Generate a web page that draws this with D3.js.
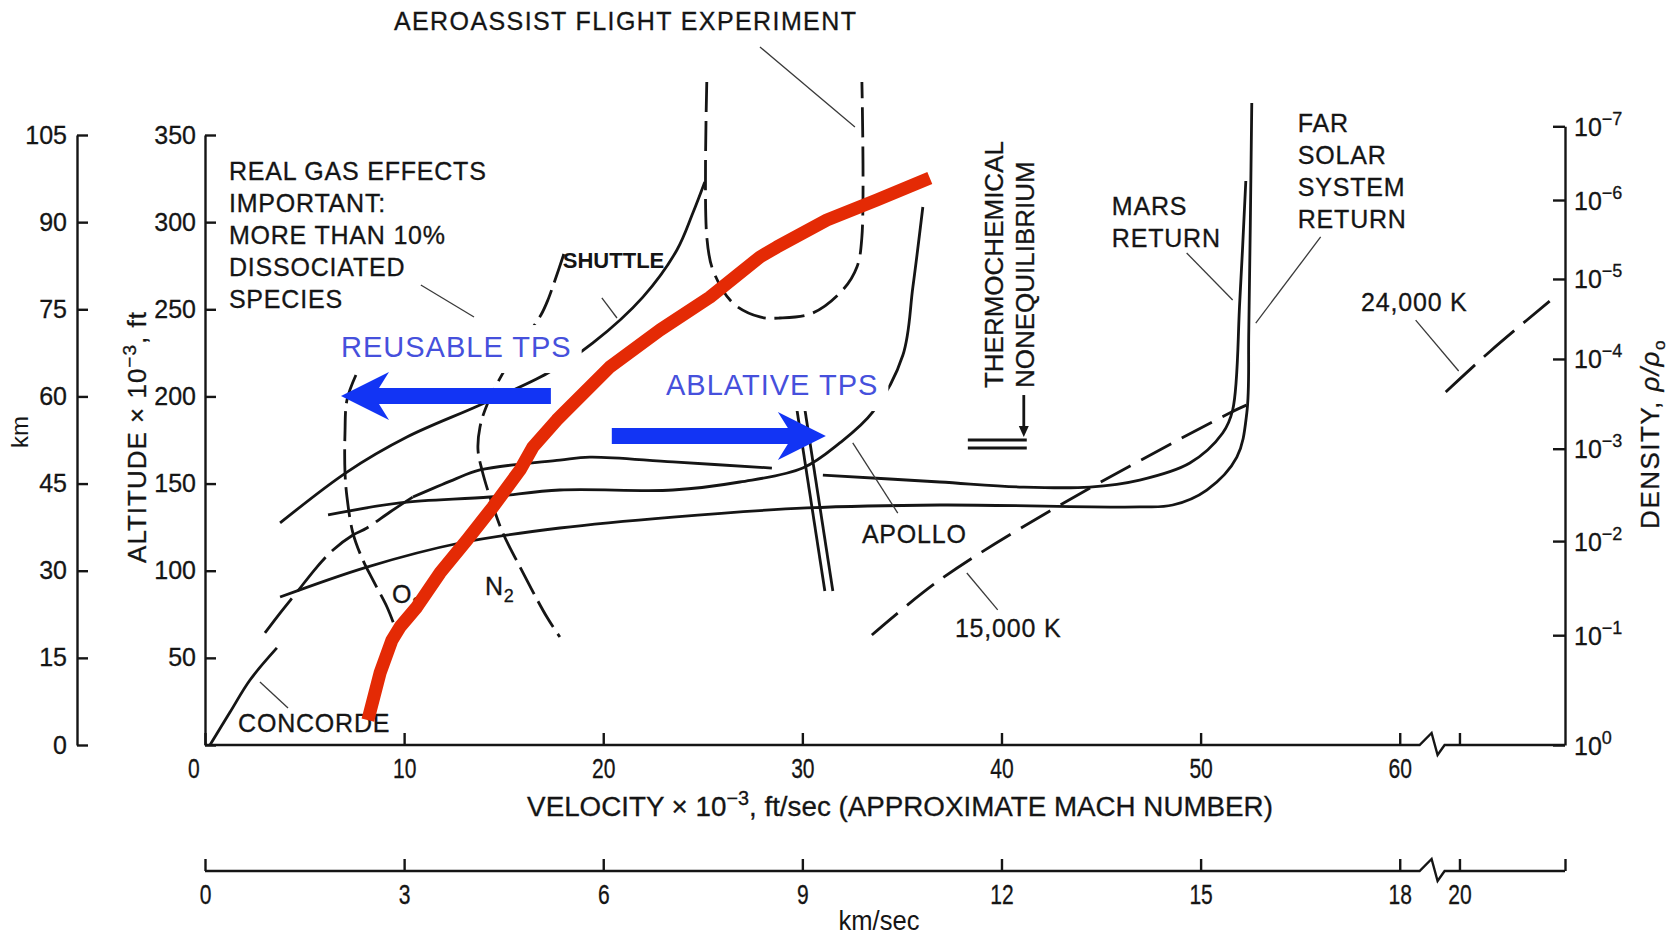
<!DOCTYPE html>
<html lang="en">
<head>
<meta charset="utf-8">
<title>Flight regimes</title>
<script src="https://cdn.jsdelivr.net/npm/d3@7/dist/d3.min.js"></script>
<style>
  body { margin: 0; background: #fff; }
  svg { display: block; background: #fff; }
  text { font-family: "Liberation Sans", Arial, Helvetica, sans-serif; fill: #151515; }
  .axis .domain, .axis .tick line, .axis-line { stroke: #151515; stroke-width: 2.4; fill: none; }
  .axis text { font-size: 25px; stroke: #151515; stroke-width: 0.3px; }
  .curve { fill: none; stroke: #151515; stroke-width: 2.8; stroke-linejoin: round; }
  .leader { stroke: #3a3a3a; stroke-width: 1.3; fill: none; }
  .label { font-size: 25px; letter-spacing: 0.8px; stroke: #151515; stroke-width: 0.3px; }
  .shuttle { font-size: 22px; font-weight: bold; }
  .rot-label { font-size: 26px; stroke: #151515; stroke-width: 0.3px; }
  .tps-label { font-size: 29px; letter-spacing: 1px; fill: #4650dc; }
  .tps-arrow { fill: #1234f4; }
  .boundary { fill: none; stroke: #e42a05; stroke-width: 13; stroke-linejoin: round; }
</style>
</head>
<body>
<svg id="chart" width="1670" height="935"></svg>
<script>
// all curves are [velocity x 10^-3 ft/s, altitude x 10^-3 ft]

const redBoundary = [[8.18, 14.3], [8.79, 41.3], [9.39, 60.2], [9.79, 67.7], [10.64, 79.2], [11.80, 98.7],
  [13.15, 117.6], [14.46, 136.6], [15.82, 157.8], [16.47, 171.0], [17.67, 186.5], [20.33, 216.9],
  [22.85, 238.1], [25.36, 257.0], [27.87, 280.0], [28.72, 285.7], [31.23, 301.2], [33.74, 312.7], [36.40, 325.3]];

const concorde = [[0.25, 0], [1.26, 18.9], [2.26, 37.3], [3.61, 55.7]];

const shuttle = [[3.77, 127.4], [7.13, 156.6], [10.14, 176.7], [13.81, 195.1], [17.22, 213.4], [19.48, 230.7],
  [21.99, 257.0], [23.70, 284.0], [24.50, 305.2], [25.10, 323.0]];

const apollo = [[6.18, 132.0], [9.79, 138.9], [14.31, 142.3], [17.82, 146.3], [23.50, 146.3], [26.86, 150.9],
  [30.02, 158.9], [31.88, 173.3], [33.54, 191.1], [35.05, 223.8], [35.55, 262.8], [36.05, 308.7]];

const marsLow = [[3.01, 64.3], [3.77, 75.7], [4.62, 87.8], [5.62, 102.1], [6.43, 111.9], [7.43, 120.5],
  [8.13, 124.5], [9.29, 133.7], [10.44, 142.3]];

const marsReturn = [[10.44, 142.3], [12.45, 152.0], [13.81, 157.8], [17.82, 163.5], [19.33, 165.2], [23.50, 162.4],
  [28.47, 158.9], null, [31.03, 154.9], [36.90, 150.9], [41.07, 148.0], [44.43, 148.0], [46.94, 152.0],
  [49.46, 161.8], [51.11, 179.0], [51.61, 192.2], [51.97, 255.3], [52.27, 323.6]];

const farSolar = [[3.77, 84.9], [8.13, 102.1], [12.80, 115.9], [17.82, 124.5], [23.50, 130.8], [30.23, 136.0],
  [36.90, 137.7], [46.94, 136.6], [48.60, 137.7], [50.31, 146.3], [51.82, 165.2], [52.32, 190.5],
  [52.42, 238.1], [52.57, 368.4]];

const o2 = [[7.58, 212.3], [7.13, 197.9], [7.03, 179.0], [7.03, 156.6], [7.13, 142.3], [7.43, 121.6],
  [7.93, 106.1], [8.43, 94.7], [9.14, 79.2], [9.54, 67.7]];

const n2 = [[18.02, 281.7], [17.22, 255.3], [16.87, 246.7], [15.92, 230.7], [14.96, 213.4], [14.16, 195.1],
  [13.81, 182.5], [13.71, 169.3], [13.91, 157.8], [14.31, 142.3], [14.96, 121.6], [15.82, 102.1],
  [17.17, 73.4], [17.82, 62.0]];

const afe = [[25.20, 380.4], [25.20, 291.5], [25.51, 272.5], [26.51, 253.6], [27.87, 245.6], [28.87, 245.0],
  [30.53, 247.9], [32.03, 261.1], [32.74, 274.3], [32.99, 291.5], [32.99, 380.4]];

const thermoBoundary = [[29.93, 192.2], [31.33, 88.4]];

const k15000 = [[33.49, 63.1], [36.90, 94.7], [42.78, 136.6], [51.46, 190.5], [52.30, 195.0]];
const k24000 = [[62.31, 202.5], [64.56, 226.1], [67.53, 254.7]];

// axes
const ftTicks = [0, 50, 100, 150, 200, 250, 300, 350];
const ftLabels = ['', '50', '100', '150', '200', '250', '300', '350'];
const kmTicks = [0, 15, 30, 45, 60, 75, 90, 105];
const velTicks = [0, 10, 20, 30, 40, 50, 60, 63];
const velLabels = ['0', '10', '20', '30', '40', '50', '60', ''];
const kmsTicks = [0, 10, 20, 30, 40, 50, 60, 63, 68.3];
const kmsLabels = ['0', '3', '6', '9', '12', '15', '18', '20', ''];
const densityAlt = [0, 63, 117, 170, 221.5, 267.4, 312.7, 355];
const densityExp = ['0', '\u22121', '\u22122', '\u22123', '\u22124', '\u22125', '\u22126', '\u22127'];

// annotations, anchored in data units
const realGas = ['REAL GAS EFFECTS', 'IMPORTANT:', 'MORE THAN 10%', 'DISSOCIATED', 'SPECIES'];
const annotations = [
  { lines: ['AEROASSIST FLIGHT EXPERIMENT'], at: [9.49, 410.2] },
  { lines: realGas, at: [1.20, 324.2] },
  { lines: ['MARS', 'RETURN'], at: [45.54, 304.1] },
  { lines: ['FAR', 'SOLAR', 'SYSTEM', 'RETURN'], at: [54.88, 351.7] },
  { lines: ['24,000 K'], at: [58.06, 249.0] },
  { lines: ['APOLLO'], at: [32.99, 115.9] },
  { lines: ['15,000 K'], at: [37.66, 62.0] },
  { lines: ['CONCORDE'], at: [1.66, 7.5] }
];
const leaders = [
  [[27.87, 400.5], [32.64, 354.6]],
  [[10.84, 263.9], [13.51, 245.6]],
  [[19.93, 256.5], [20.69, 245.0]],
  [[2.76, 36.1], [4.17, 21.2]],
  [[32.53, 173.3], [34.79, 133.1]],
  [[38.26, 98.7], [39.81, 77.5]],
  [[60.80, 243.8], [62.96, 214.6]],
  [[49.30, 282.3], [51.61, 255.3]],
  [[56.03, 291.5], [52.77, 242.1]]
];
const tpsLabels = [
  { text: 'REUSABLE TPS', at: [6.83, 222.6] },
  { text: 'ABLATIVE TPS', at: [23.15, 200.8] }
];
const tpsArrows = [
  { from: [17.37, 200.2], to: [6.83, 200.2] },
  { from: [20.43, 177.3], to: [31.18, 177.3] }
];

class FlightRegimeChart {

    constructor() {
        this.svg = d3.select('#chart');
        this.x = d3.scaleLinear().domain([0, 68.3]).range([205, 1565]);
        this.y = d3.scaleLinear().domain([0, 350]).range([745, 135]);
        this.yKm = d3.scaleLinear().domain([0, 105]).range([745, 135]);
        this.yDensity = d3.scaleLinear().domain([0, 355]).range([this.y(0), this.y(355)]);
        this.kmAxisX = 77;
        this.kmsAxisY = 871;
        this.breakAt = 61.6;

        this.line = d3.line()
            .defined(d => d !== null)
            .x(d => this.x(d[0]))
            .y(d => this.y(d[1]))
            .curve(d3.curveCatmullRom.alpha(0.5));
    }

    brokenAxisLine(yy) {
        const bx = this.x(this.breakAt);
        const pts = [[this.x(0), yy], [bx - 12, yy], [bx, yy - 12], [bx + 6, yy + 10], [bx + 13, yy], [this.x(68.3), yy]];
        this.svg.append('path').attr('class', 'axis-line').attr('d', d3.line()(pts));
    }

    fitWidth(sel, cx, cy, target) {
        const w = sel.node().getBBox().width;
        sel.attr('transform', `translate(${cx},${cy}) scale(${target / w},1)`);
    }

    drawAxes() {
        const svg = this.svg, x = this.x, y = this.y;

        svg.append('g').attr('class', 'axis')
            .attr('transform', `translate(${x(0)},0)`)
            .call(d3.axisLeft(y).tickValues(ftTicks).tickSize(-11).tickSizeOuter(0).tickPadding(9)
                .tickFormat((d, i) => ftLabels[i]));

        svg.append('g').attr('class', 'axis')
            .attr('transform', `translate(${this.kmAxisX},0)`)
            .call(d3.axisLeft(this.yKm).tickValues(kmTicks).tickSize(-11).tickSizeOuter(0).tickPadding(10));

        const dens = svg.append('g').attr('class', 'axis')
            .attr('transform', `translate(${x(68.3)},0)`)
            .call(d3.axisRight(this.yDensity).tickValues(densityAlt).tickSize(-12).tickSizeOuter(0).tickFormat(''));
        dens.selectAll('.tick text').remove();
        dens.selectAll('.tick').append('text')
            .attr('x', 9).attr('y', 9).attr('text-anchor', 'start')
            .each(function (d, i) {
                const t = d3.select(this);
                t.append('tspan').text('10');
                t.append('tspan').attr('dy', -11).style('font-size', '18px').text(densityExp[i]);
            });

        const vel = svg.append('g').attr('class', 'axis')
            .attr('transform', `translate(0,${y(0)})`)
            .call(d3.axisBottom(x).tickValues(velTicks).tickSize(-12).tickPadding(14).tickFormat((d, i) => velLabels[i]));
        vel.select('.domain').remove();
        vel.selectAll('text').attr('transform', 'scale(0.78,1)').style('font-size', '27px');
        // the "0" sits a little left of the corner in the original
        vel.selectAll('text').filter(d => d === 0).attr('x', -15);
        this.brokenAxisLine(y(0));

        const kms = svg.append('g').attr('class', 'axis')
            .attr('transform', `translate(0,${this.kmsAxisY})`)
            .call(d3.axisBottom(x).tickValues(kmsTicks).tickSize(-12).tickPadding(14).tickFormat((d, i) => kmsLabels[i]));
        kms.select('.domain').remove();
        kms.selectAll('text').attr('transform', 'scale(0.78,1)').style('font-size', '27px');
        this.brokenAxisLine(this.kmsAxisY);

        // axis titles
        const xTitle = svg.append('text').attr('text-anchor', 'middle')
            .style('font-size', '28px').style('stroke', '#151515').style('stroke-width', '0.3px');
        xTitle.append('tspan').text('VELOCITY \u00d7 10');
        xTitle.append('tspan').attr('dy', -11).style('font-size', '20px').text('\u22123');
        xTitle.append('tspan').attr('dy', 11).text(', ft/sec (APPROXIMATE MACH NUMBER)');
        this.fitWidth(xTitle, 900, 816, 746);

        const kmsTitle = svg.append('text').attr('text-anchor', 'middle').style('font-size', '27px').text('km/sec');
        this.fitWidth(kmsTitle, 879, 930, 81);

        const altTitle = svg.append('text').attr('class', 'rot-label')
            .attr('text-anchor', 'middle').style('letter-spacing', '1px')
            .attr('transform', 'translate(146,437) rotate(-90)');
        altTitle.append('tspan').text('ALTITUDE \u00d7 10');
        altTitle.append('tspan').attr('dy', -10).style('font-size', '19px').text('\u22123');
        altTitle.append('tspan').attr('dy', 10).text(', ft');

        svg.append('text').attr('text-anchor', 'middle').style('font-size', '24px')
            .attr('transform', 'translate(28,432) rotate(-90)').text('km');

        const densTitle = svg.append('text').attr('class', 'rot-label')
            .attr('text-anchor', 'middle').style('letter-spacing', '1.5px')
            .attr('transform', 'translate(1659,434) rotate(-90)');
        densTitle.append('tspan').text('DENSITY, ');
        densTitle.append('tspan').style('font-style', 'italic').text('\u03c1/\u03c1');
        densTitle.append('tspan').attr('dy', 6).style('font-size', '17px').text('o');
    }

    drawCurves() {
        const svg = this.svg;
        const g = svg.append('g');
        [shuttle, apollo, farSolar, marsReturn, concorde].forEach(d => {
            g.append('path').datum(d).attr('class', 'curve').attr('d', this.line);
        });
        [[marsLow, '44 9'], [o2, '30 8'], [n2, '30 8'], [afe, '30 9'], [k15000, '34 12'], [k24000, '40 12']]
            .forEach(([d, dash]) => {
                g.append('path').datum(d).attr('class', 'curve').attr('stroke-dasharray', dash).attr('d', this.line);
            });
        // double line = thermochemical nonequilibrium
        [-4, 4].forEach(off => {
            g.append('path').datum(thermoBoundary).attr('class', 'curve')
                .attr('stroke-width', 2.2)
                .attr('transform', `translate(${off},0)`)
                .attr('d', d3.line().x(d => this.x(d[0])).y(d => this.y(d[1])));
        });

        g.selectAll('.leader').data(leaders).join('line')
            .attr('class', 'leader')
            .attr('x1', d => this.x(d[0][0])).attr('y1', d => this.y(d[0][1]))
            .attr('x2', d => this.x(d[1][0])).attr('y2', d => this.y(d[1][1]));
    }

    arrowPath(from, to) {
        const x0 = this.x(from[0]), x1 = this.x(to[0]), yy = this.y(to[1]);
        const s = Math.sign(x1 - x0);
        const shaft = 8, barb = 24, headLen = 48, neck = 38;
        const pts = [
            [x1, yy], [x1 - s * headLen, yy - barb], [x1 - s * neck, yy - shaft], [x0, yy - shaft],
            [x0, yy + shaft], [x1 - s * neck, yy + shaft], [x1 - s * headLen, yy + barb]
        ];
        return d3.line()(pts) + 'Z';
    }

    drawAnnotations() {
        const svg = this.svg, x = this.x, y = this.y;

        // blue TPS overlay: labels knock out the lines underneath
        tpsLabels.forEach(l => {
            const t = svg.append('text').attr('class', 'tps-label')
                .attr('x', x(l.at[0])).attr('y', y(l.at[1])).text(l.text);
            const b = t.node().getBBox();
            svg.insert('rect', () => t.node())
                .attr('x', b.x - 8).attr('y', b.y - 6).attr('width', b.width + 18).attr('height', b.height + 16)
                .attr('fill', '#fff');
        });
        svg.selectAll('.tps-arrow').data(tpsArrows).join('path')
            .attr('class', 'tps-arrow')
            .attr('d', d => this.arrowPath(d.from, d.to));

        annotations.forEach((a, k) => {
            const t = svg.append('text').attr('class', 'label')
                .attr('x', x(a.at[0])).attr('y', y(a.at[1]));
            if (k === 0) t.style('letter-spacing', '1.4px');
            a.lines.forEach((ln, i) => {
                t.append('tspan').attr('x', x(a.at[0])).attr('dy', i === 0 ? 0 : 32).text(ln);
            });
        });

        svg.append('text').attr('class', 'shuttle').attr('x', x(17.97)).attr('y', y(273.7)).text('SHUTTLE');

        const o = svg.append('text').attr('class', 'label').attr('x', x(9.39)).attr('y', y(81.5));
        o.append('tspan').text('O');
        o.append('tspan').attr('dy', 7).style('font-size', '18px').text('2');
        const n = svg.append('text').attr('class', 'label').attr('x', x(14.06)).attr('y', y(86.1));
        n.append('tspan').text('N');
        n.append('tspan').attr('dy', 7).style('font-size', '18px').text('2');

        // thermochemical nonequilibrium legend
        svg.append('text').attr('class', 'rot-label')
            .attr('transform', `translate(${x(40.07)},${y(204.8)}) rotate(-90)`).text('THERMOCHEMICAL');
        svg.append('text').attr('class', 'rot-label')
            .attr('transform', `translate(${x(41.62)},${y(204.8)}) rotate(-90)`).text('NONEQUILIBRIUM');
        [0, 8].forEach(off => {
            svg.append('line').attr('class', 'curve').attr('stroke-width', 2.2)
                .attr('x1', x(38.31)).attr('x2', x(41.27))
                .attr('y1', y(175.0) + off).attr('y2', y(175.0) + off);
        });
        const ax = x(41.12), ay0 = y(200.8), ay1 = y(176.7);
        svg.append('line').attr('class', 'curve').attr('stroke-width', 1.6)
            .attr('x1', ax).attr('x2', ax).attr('y1', ay0).attr('y2', ay1 - 8);
        svg.append('path').attr('fill', '#151515')
            .attr('d', d3.line()([[ax - 5, ay1 - 11], [ax + 5, ay1 - 11], [ax, ay1]]) + 'Z');
    }

    drawBoundary() {
        this.svg.append('path').datum(redBoundary)
            .attr('class', 'boundary')
            .attr('d', d3.line().x(d => this.x(d[0])).y(d => this.y(d[1])));
    }

    draw() {
        this.drawAxes();
        this.drawCurves();
        this.drawAnnotations();
        this.drawBoundary();
    }
}

new FlightRegimeChart().draw();
</script>
</body>
</html>
